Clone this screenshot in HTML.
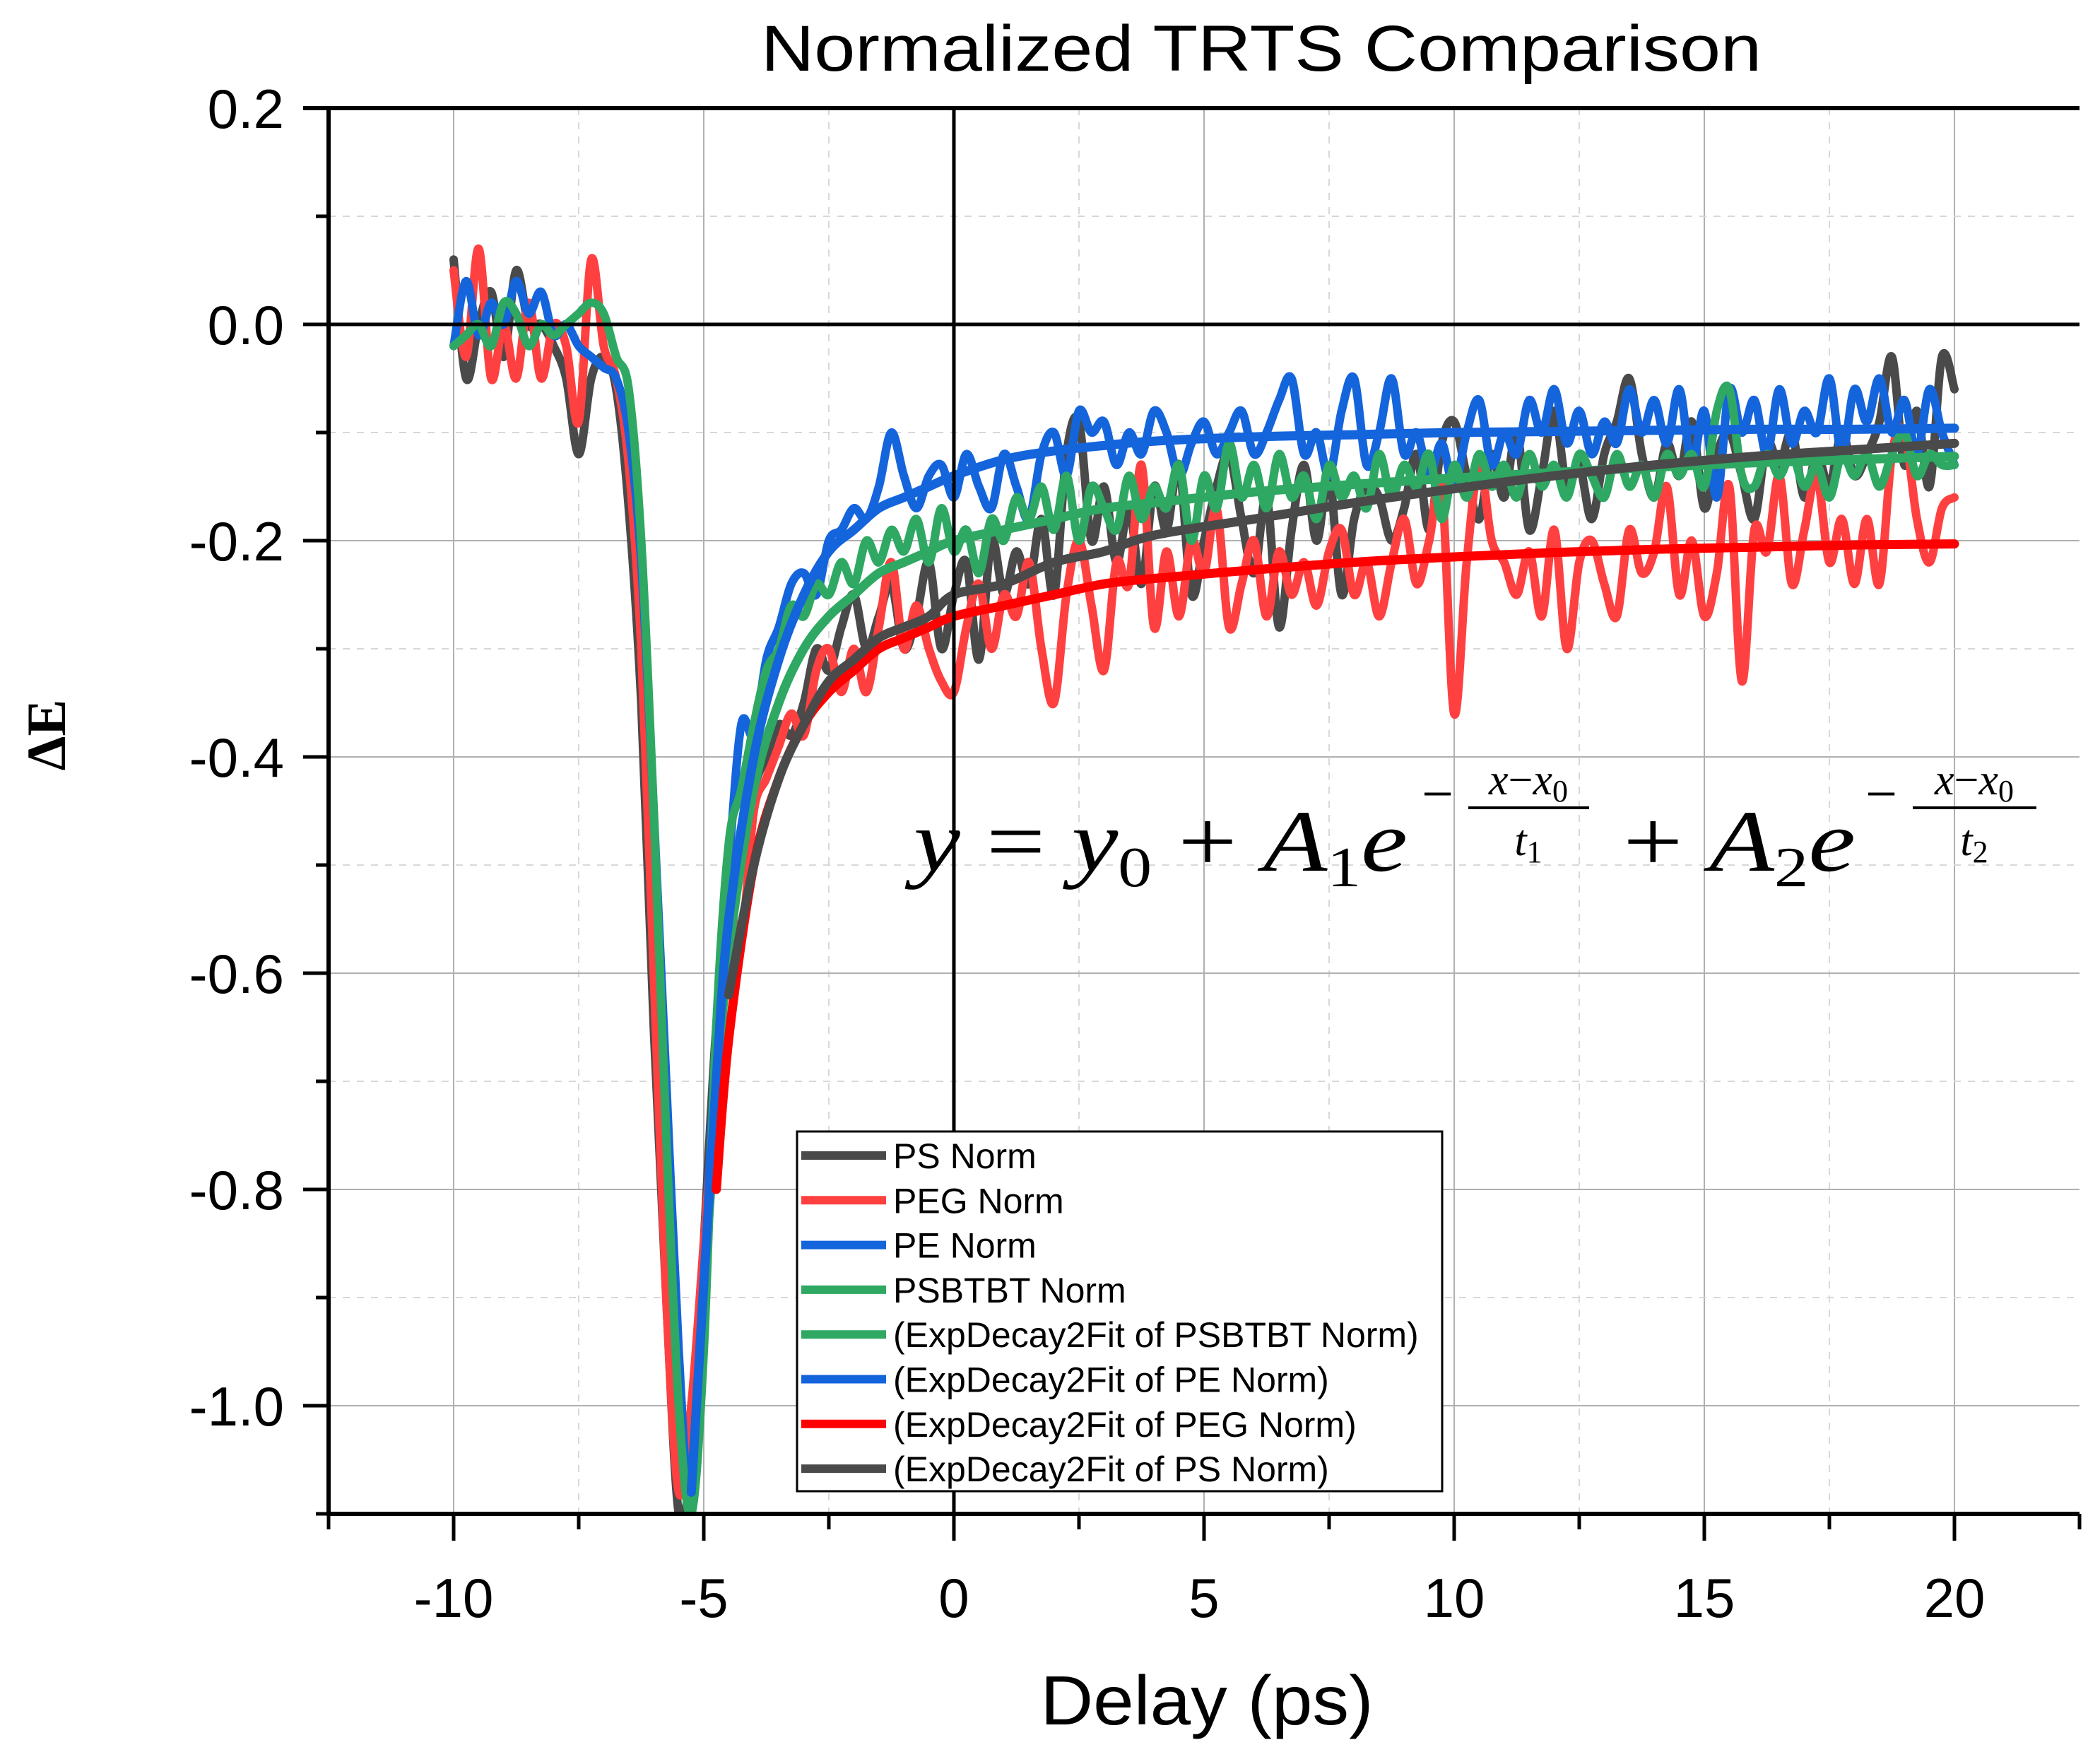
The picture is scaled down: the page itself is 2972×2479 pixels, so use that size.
<!DOCTYPE html>
<html><head><meta charset="utf-8"><style>
html,body{margin:0;padding:0;background:#fff;}
svg{display:block;}
text{font-family:"Liberation Sans",sans-serif;}
</style></head><body>
<svg id="chart" width="2972" height="2479" viewBox="0 0 2972 2479" xmlns="http://www.w3.org/2000/svg">
<defs><clipPath id="plotclip"><rect x="465" y="153" width="2478" height="1989"/></clipPath></defs>
<g id="grid"></g>
<g id="data" clip-path="url(#plotclip)"></g>
<g id="axes"></g>
<text x="1785" y="100" font-size="92" text-anchor="middle" textLength="1416" lengthAdjust="spacingAndGlyphs">Normalized TRTS Comparison</text>
<text x="1708" y="2440" font-size="98" text-anchor="middle" textLength="471" lengthAdjust="spacingAndGlyphs">Delay (ps)</text>
<text transform="translate(92,1040) rotate(-90)" font-size="78" font-weight="bold" text-anchor="middle" style="font-family:'Liberation Serif',serif">ΔE</text>
<g style="font-family:'Liberation Serif',serif" font-size="124">
<text x="1293" y="1232" style="font-family:'Liberation Serif',serif" textLength="699" lengthAdjust="spacingAndGlyphs"><tspan font-style="italic">y</tspan> = <tspan font-style="italic">y</tspan><tspan font-size="80" dy="22">0</tspan><tspan dy="-22"> + </tspan><tspan font-style="italic">A</tspan><tspan font-size="80" dy="22">1</tspan><tspan dy="-22" font-style="italic">e</tspan></text>
<text x="2012" y="1150" font-size="80" style="font-family:'Liberation Serif',serif">−</text>
<line x1="2078" y1="1143" x2="2249" y2="1143" stroke="#000" stroke-width="4"/>
<text x="2163" y="1124" font-size="62" text-anchor="middle" style="font-family:'Liberation Serif',serif"><tspan font-style="italic">x</tspan>−<tspan font-style="italic">x</tspan><tspan font-size="44" dy="10">0</tspan></text>
<text x="2163" y="1210" font-size="62" text-anchor="middle" style="font-family:'Liberation Serif',serif"><tspan font-style="italic">t</tspan><tspan font-size="44" dy="10">1</tspan></text>
<text x="2297" y="1232" style="font-family:'Liberation Serif',serif" textLength="329" lengthAdjust="spacingAndGlyphs">+ <tspan font-style="italic">A</tspan><tspan font-size="80" dy="22">2</tspan><tspan dy="-22" font-style="italic">e</tspan></text>
<text x="2640" y="1150" font-size="80" style="font-family:'Liberation Serif',serif">−</text>
<line x1="2707" y1="1143" x2="2882" y2="1143" stroke="#000" stroke-width="4"/>
<text x="2794" y="1124" font-size="62" text-anchor="middle" style="font-family:'Liberation Serif',serif"><tspan font-style="italic">x</tspan>−<tspan font-style="italic">x</tspan><tspan font-size="44" dy="10">0</tspan></text>
<text x="2794" y="1210" font-size="62" text-anchor="middle" style="font-family:'Liberation Serif',serif"><tspan font-style="italic">t</tspan><tspan font-size="44" dy="10">2</tspan></text>
</g>
<g id="legend"></g>
</svg>
<script>
const delayStart = -10;
const delayStep = 0.25;
const psNorm = [0.06,-0.05,0.0,0.03,-0.03,0.05,0.0,0.0,-0.02,-0.05,-0.12,-0.05,-0.03,-0.06,-0.17,-0.35,-0.65,-0.9,-1.1,-1.05,-0.85,-0.65,-0.55,-0.5,-0.43,-0.4,-0.37,-0.38,-0.35,-0.3,-0.32,-0.28,-0.25,-0.3,-0.27,-0.24,-0.3,-0.27,-0.22,-0.3,-0.25,-0.22,-0.31,-0.2,-0.25,-0.21,-0.24,-0.18,-0.25,-0.12,-0.09,-0.2,-0.15,-0.22,-0.17,-0.24,-0.15,-0.19,-0.13,-0.25,-0.2,-0.15,-0.12,-0.18,-0.23,-0.16,-0.28,-0.19,-0.13,-0.2,-0.14,-0.25,-0.18,-0.15,-0.16,-0.2,-0.17,-0.12,-0.19,-0.11,-0.09,-0.14,-0.18,-0.12,-0.16,-0.1,-0.19,-0.14,-0.08,-0.15,-0.13,-0.18,-0.12,-0.09,-0.05,-0.12,-0.16,-0.11,-0.14,-0.09,-0.17,-0.12,-0.1,-0.14,-0.18,-0.11,-0.13,-0.1,-0.16,-0.12,-0.15,-0.1,-0.14,-0.12,-0.09,-0.03,-0.13,-0.08,-0.15,-0.03,-0.06];
const pegNorm = [0.05,-0.03,0.07,-0.05,0.0,-0.05,0.02,-0.05,0.0,-0.02,-0.09,0.06,-0.02,-0.05,-0.13,-0.3,-0.6,-0.9,-1.08,-1.0,-0.85,-0.7,-0.55,-0.57,-0.45,-0.42,-0.39,-0.36,-0.38,-0.32,-0.3,-0.34,-0.3,-0.34,-0.28,-0.22,-0.3,-0.26,-0.3,-0.33,-0.34,-0.28,-0.24,-0.3,-0.25,-0.27,-0.22,-0.3,-0.35,-0.25,-0.2,-0.26,-0.32,-0.22,-0.24,-0.13,-0.28,-0.21,-0.27,-0.2,-0.23,-0.17,-0.28,-0.24,-0.2,-0.27,-0.21,-0.25,-0.22,-0.26,-0.21,-0.19,-0.25,-0.22,-0.27,-0.22,-0.18,-0.24,-0.2,-0.15,-0.36,-0.22,-0.13,-0.2,-0.22,-0.25,-0.21,-0.27,-0.19,-0.3,-0.22,-0.2,-0.24,-0.27,-0.19,-0.23,-0.21,-0.15,-0.25,-0.2,-0.27,-0.23,-0.15,-0.33,-0.19,-0.21,-0.14,-0.24,-0.19,-0.14,-0.22,-0.18,-0.24,-0.18,-0.24,-0.12,-0.1,-0.18,-0.22,-0.17,-0.16];
const peNorm = [-0.02,0.04,-0.01,0.02,0.0,0.04,0.01,0.03,-0.01,0.0,-0.02,-0.03,-0.04,-0.05,-0.1,-0.22,-0.45,-0.7,-0.95,-1.1,-0.9,-0.65,-0.5,-0.37,-0.38,-0.31,-0.28,-0.24,-0.23,-0.25,-0.2,-0.19,-0.17,-0.18,-0.15,-0.1,-0.14,-0.17,-0.14,-0.13,-0.16,-0.12,-0.15,-0.17,-0.12,-0.15,-0.18,-0.12,-0.1,-0.14,-0.08,-0.1,-0.09,-0.13,-0.1,-0.12,-0.08,-0.1,-0.14,-0.11,-0.09,-0.12,-0.1,-0.08,-0.12,-0.1,-0.07,-0.05,-0.12,-0.1,-0.14,-0.08,-0.05,-0.13,-0.1,-0.05,-0.12,-0.1,-0.14,-0.11,-0.15,-0.1,-0.07,-0.13,-0.1,-0.12,-0.07,-0.1,-0.06,-0.11,-0.08,-0.12,-0.09,-0.11,-0.06,-0.1,-0.07,-0.11,-0.06,-0.13,-0.08,-0.16,-0.06,-0.1,-0.07,-0.12,-0.06,-0.11,-0.08,-0.1,-0.05,-0.12,-0.06,-0.09,-0.05,-0.1,-0.07,-0.12,-0.06,-0.1,-0.13];
const psbtbtNorm = [-0.02,-0.01,0.0,-0.02,0.02,0.01,-0.02,0.0,-0.01,0.0,0.01,0.02,0.01,-0.03,-0.06,-0.2,-0.45,-0.75,-1.0,-1.1,-0.95,-0.65,-0.48,-0.43,-0.37,-0.32,-0.3,-0.26,-0.27,-0.24,-0.25,-0.22,-0.24,-0.2,-0.22,-0.19,-0.21,-0.18,-0.22,-0.17,-0.21,-0.19,-0.23,-0.18,-0.2,-0.16,-0.18,-0.15,-0.19,-0.14,-0.2,-0.15,-0.17,-0.19,-0.14,-0.18,-0.15,-0.17,-0.13,-0.2,-0.14,-0.17,-0.11,-0.16,-0.13,-0.17,-0.12,-0.16,-0.14,-0.18,-0.13,-0.16,-0.14,-0.17,-0.12,-0.16,-0.13,-0.15,-0.12,-0.18,-0.13,-0.16,-0.12,-0.15,-0.13,-0.16,-0.12,-0.15,-0.13,-0.16,-0.12,-0.14,-0.16,-0.12,-0.15,-0.13,-0.16,-0.12,-0.14,-0.12,-0.15,-0.08,-0.06,-0.14,-0.15,-0.12,-0.14,-0.12,-0.15,-0.13,-0.16,-0.12,-0.14,-0.12,-0.15,-0.12,-0.1,-0.14,-0.12,-0.13,-0.13];
const fitX = [-5.25,-4.75,-4.5,-4,-3.5,-3,-2.5,-2,-1.5,-1,-0.5,0,1,2,3,4,6,8,10,12,14,16,18,20];
const fitPE = [-1.08,-0.7,-0.55,-0.4,-0.31,-0.25,-0.21,-0.19,-0.17,-0.16,-0.15,-0.14,-0.125,-0.117,-0.112,-0.108,-0.104,-0.102,-0.1,-0.099,-0.098,-0.097,-0.097,-0.096];
const fitPSBTBT = [-1.08,-0.72,-0.58,-0.43,-0.35,-0.3,-0.27,-0.25,-0.23,-0.22,-0.21,-0.2,-0.19,-0.18,-0.17,-0.165,-0.155,-0.148,-0.142,-0.137,-0.132,-0.128,-0.125,-0.122];
const fitPEG = [null,-0.8,-0.66,-0.5,-0.42,-0.37,-0.34,-0.32,-0.3,-0.29,-0.28,-0.27,-0.26,-0.25,-0.24,-0.235,-0.227,-0.22,-0.215,-0.211,-0.208,-0.206,-0.204,-0.203];
const fitPS = [null,null,-0.62,-0.5,-0.42,-0.37,-0.33,-0.31,-0.29,-0.28,-0.27,-0.25,-0.24,-0.22,-0.21,-0.195,-0.18,-0.165,-0.152,-0.14,-0.13,-0.122,-0.116,-0.11];
const xTicks = [-10,-5,0,5,10,15,20];
const xTickLabels = ["-10","-5","0","5","10","15","20"];
const yTicks = [0.2,0,-0.2,-0.4,-0.6,-0.8,-1.0];
const yTickLabels = ["0.2","0.0","-0.2","-0.4","-0.6","-0.8","-1.0"];
const legendLabels = ["PS Norm","PEG Norm","PE Norm","PSBTBT Norm","(ExpDecay2Fit of PSBTBT Norm)","(ExpDecay2Fit of PE Norm)","(ExpDecay2Fit of PEG Norm)","(ExpDecay2Fit of PS Norm)"];

const NS="http://www.w3.org/2000/svg";
const X0=465,X1=2943,XMIN=-12.5,XMAX=22.5;
const Y0=153,Y1=2142,YMAX=0.2,YMIN=-1.1;
function sx(v){return X0+(v-XMIN)/(XMAX-XMIN)*(X1-X0);}
function sy(v){return Y0+(YMAX-v)/(YMAX-YMIN)*(Y1-Y0);}
function mk(tag,attrs,parent){const e=document.createElementNS(NS,tag);for(const k in attrs)e.setAttribute(k,attrs[k]);parent.appendChild(e);return e;}
const grid=document.getElementById('grid'),axes=document.getElementById('axes'),dataG=document.getElementById('data'),legend=document.getElementById('legend');

for(let v=-10;v<=20;v+=2.5){
  const major=(v%5===0);
  const l=mk('line',{x1:sx(v),x2:sx(v),y1:Y0,y2:Y1,stroke:major?'#b0b0b0':'#d8d8d8','stroke-width':2,'stroke-dasharray':major?'none':'10 10'},grid);
  
  
}
for(let i=0;i<=13;i++){
  const v=0.2-i*0.1; const major=(i%2===0);
  if(i===2) continue;
  const l=mk('line',{x1:X0,x2:X1,y1:sy(v),y2:sy(v),stroke:major?'#b0b0b0':'#d8d8d8','stroke-width':2,'stroke-dasharray':major?'none':'10 10'},grid);
  
  
}

function smoothPath(pts){
  if(pts.length<2)return '';
  let d='M'+pts[0][0].toFixed(1)+','+pts[0][1].toFixed(1);
  for(let i=0;i<pts.length-1;i++){
    const p0=pts[Math.max(0,i-1)],p1=pts[i],p2=pts[i+1],p3=pts[Math.min(pts.length-1,i+2)];
    const c1=[p1[0]+(p2[0]-p0[0])/6,p1[1]+(p2[1]-p0[1])/6];
    const c2=[p2[0]-(p3[0]-p1[0])/6,p2[1]-(p3[1]-p1[1])/6];
    d+='C'+c1[0].toFixed(1)+','+c1[1].toFixed(1)+' '+c2[0].toFixed(1)+','+c2[1].toFixed(1)+' '+p2[0].toFixed(1)+','+p2[1].toFixed(1);
  }
  return d;
}
function dataPts(arr){return arr.map((v,i)=>[sx(delayStart+i*delayStep),sy(v)]);}
function fitPts(arr){const p=[];arr.forEach((v,i)=>{if(v!==null)p.push([sx(fitX[i]),sy(v)]);});return p;}

const s1=mk('path',{d:smoothPath(dataPts(psNorm)),fill:'none',stroke:'#4a4a4a','stroke-width':12,'stroke-linejoin':'round','stroke-linecap':'round'},dataG);


const s2=mk('path',{d:smoothPath(dataPts(pegNorm)),fill:'none',stroke:'#ff4040','stroke-width':12,'stroke-linejoin':'round','stroke-linecap':'round'},dataG);


const s3=mk('path',{d:smoothPath(dataPts(peNorm)),fill:'none',stroke:'#1464dc','stroke-width':12,'stroke-linejoin':'round','stroke-linecap':'round'},dataG);


const s4=mk('path',{d:smoothPath(dataPts(psbtbtNorm)),fill:'none',stroke:'#2ea862','stroke-width':12,'stroke-linejoin':'round','stroke-linecap':'round'},dataG);


const f1=mk('path',{d:smoothPath(fitPts(fitPSBTBT)),fill:'none',stroke:'#2ea862','stroke-width':13,'stroke-linecap':'round'},dataG);


const f2=mk('path',{d:smoothPath(fitPts(fitPE)),fill:'none',stroke:'#1464dc','stroke-width':13,'stroke-linecap':'round'},dataG);


const f3=mk('path',{d:smoothPath(fitPts(fitPEG)),fill:'none',stroke:'#ff0000','stroke-width':13,'stroke-linecap':'round'},dataG);


const f4=mk('path',{d:smoothPath(fitPts(fitPS)),fill:'none',stroke:'#4a4a4a','stroke-width':13,'stroke-linecap':'round'},dataG);



const z1=mk('line',{x1:X0,x2:X1,y1:sy(0),y2:sy(0),stroke:'#000','stroke-width':5},axes);


const z2=mk('line',{x1:sx(0),x2:sx(0),y1:Y0,y2:Y1,stroke:'#000','stroke-width':5},axes);


const al=mk('line',{x1:X0,x2:X0,y1:Y0,y2:Y1+3,stroke:'#000','stroke-width':6},axes);


const ab=mk('line',{x1:X0-3,x2:X1,y1:Y1,y2:Y1,stroke:'#000','stroke-width':6},axes);


const at=mk('line',{x1:X0-36,x2:X1,y1:Y0,y2:Y0,stroke:'#000','stroke-width':6},axes);


for(let v=-12.5;v<=22.5;v+=2.5){
  const major=(v%5===0);
  const t=mk('line',{x1:sx(v),x2:sx(v),y1:Y1,y2:Y1+(major?38:22),stroke:'#000','stroke-width':5},axes);
  
  
}
xTicks.forEach((v,i)=>{
  const t=mk('text',{x:sx(v),y:2288,'font-size':78,'text-anchor':'middle'},axes);
  t.textContent=xTickLabels[i];
  
  
});
for(let i=0;i<=13;i++){
  const v=0.2-i*0.1; const major=(i%2===0);
  const t=mk('line',{x1:X0-(major?36:18),x2:X0,y1:sy(v),y2:sy(v),stroke:'#000','stroke-width':5},axes);
  
  
}
yTicks.forEach((v,i)=>{
  const t=mk('text',{x:402,y:sy(v)+28,'font-size':78,'text-anchor':'end'},axes);
  t.textContent=yTickLabels[i];
  
  
});

const lb=mk('rect',{x:1128,y:1601,width:913,height:509,fill:'#fff',stroke:'#000','stroke-width':3},legend);


const legendColors=['#4a4a4a','#ff4040','#1464dc','#2ea862','#2ea862','#1464dc','#ff0000','#4a4a4a'];
legendLabels.forEach((lab,i)=>{
  const cy=1635+i*63.3;
  const g=mk('g',{},legend);
  
  
  mk('line',{x1:1134,x2:1254,y1:cy,y2:cy,stroke:legendColors[i],'stroke-width':12},g);
  const t=mk('text',{x:1264,y:cy+18,'font-size':50},g);
  t.textContent=lab;
});
</script>
</body></html>
